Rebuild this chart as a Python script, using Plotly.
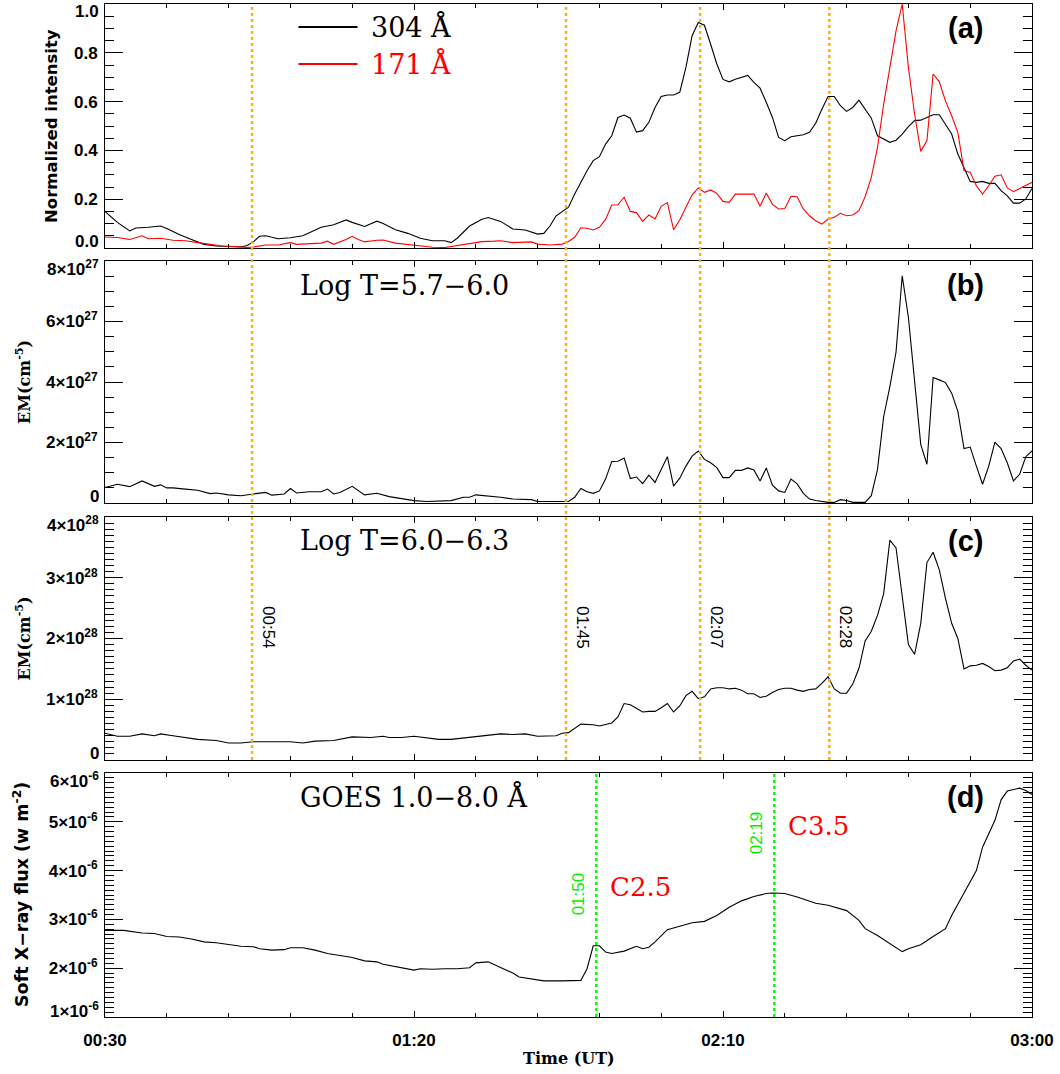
import plotly.graph_objects as go
from plotly.subplots import make_subplots

# ---------------- data (time = minutes after 00:30 UT) ----------------
t_304 = [0, 2, 4, 5, 7, 9, 10, 12, 14, 16, 18, 20, 22, 23, 24, 25, 26, 28, 30, 32, 33, 35, 37, 39, 40,
         42, 44, 45, 47, 49, 51, 53, 55, 56, 57, 59, 61, 62, 63, 64, 66, 68, 70, 71, 72, 73, 75, 76,
         78, 79, 80, 81, 82, 83, 84, 85, 86, 87, 88, 89, 90, 91, 92, 93, 94, 95, 96, 97, 98, 99, 100,
         101, 102, 103, 104, 105, 106, 107, 108, 109, 110, 111, 113, 114, 115, 116, 117, 118, 119, 120,
         121, 122, 123, 124, 125, 127, 128, 129, 130, 131, 132, 133, 134, 135, 136, 137, 138, 139, 140,
         141, 142, 143, 144, 145, 146, 147, 148, 149, 150]
i_304 = [0.15, 0.105, 0.07, 0.082, 0.085, 0.09, 0.08, 0.055, 0.035, 0.015, 0.008, 0.006, 0.004, 0.01,
         0.025, 0.048, 0.05, 0.038, 0.042, 0.05, 0.062, 0.085, 0.095, 0.115, 0.105, 0.088, 0.11, 0.1,
         0.075, 0.06, 0.04, 0.03, 0.03, 0.022, 0.04, 0.09, 0.118, 0.125, 0.117, 0.109, 0.078, 0.074,
         0.057, 0.06, 0.09, 0.132, 0.167, 0.221, 0.317, 0.358, 0.374, 0.426, 0.46, 0.535, 0.545, 0.532,
         0.475, 0.481, 0.515, 0.576, 0.621, 0.627, 0.627, 0.638, 0.74, 0.87, 0.924, 0.913, 0.835, 0.754,
         0.691, 0.681, 0.692, 0.699, 0.707, 0.679, 0.655, 0.597, 0.535, 0.453, 0.44, 0.456, 0.464, 0.474,
         0.511, 0.569, 0.621, 0.621, 0.583, 0.56, 0.576, 0.606, 0.569, 0.532, 0.46, 0.433, 0.442, 0.467,
         0.497, 0.522, 0.524, 0.535, 0.546, 0.546, 0.508, 0.467, 0.385, 0.33, 0.273, 0.269, 0.273, 0.265,
         0.265, 0.235, 0.214, 0.184, 0.184, 0.201, 0.244]

t_171 = [0, 2, 4, 6, 7, 9, 11, 13, 15, 17, 19, 21, 23, 24, 26, 28, 30, 31, 33, 35, 36, 37, 39, 40, 41,
         42, 44, 45, 47, 49, 51, 53, 55, 57, 59, 61, 63, 64, 66, 69, 70, 72, 74, 75, 76, 77, 78, 79, 80,
         81, 82, 83, 84, 85, 86, 87, 88, 89, 90, 91, 92, 93, 94, 95, 96, 97, 98, 99, 100, 101, 102, 103,
         105, 106, 107, 108, 109, 110, 111, 112, 113, 114, 115, 116, 117, 118, 119, 120, 121, 122, 123,
         124, 125, 126, 127, 128, 129, 130, 131, 132, 133, 134, 135, 136, 137, 138, 139, 140, 141, 142,
         143, 144, 145, 146, 147, 148, 149, 150]
i_171 = [0.045, 0.043, 0.035, 0.05, 0.038, 0.04, 0.032, 0.03, 0.022, 0.015, 0.008, 0.006, 0.002, 0.004,
         0.012, 0.012, 0.022, 0.015, 0.017, 0.02, 0.028, 0.015, 0.035, 0.048, 0.035, 0.025, 0.032, 0.033,
         0.02, 0.015, 0.01, 0.003, 0.002, 0.01, 0.02, 0.026, 0.028, 0.03, 0.022, 0.025, 0.016, 0.012,
         0.016, 0.027, 0.044, 0.083, 0.081, 0.074, 0.085, 0.117, 0.176, 0.177, 0.208, 0.15, 0.145, 0.109,
         0.135, 0.119, 0.171, 0.186, 0.075, 0.115, 0.167, 0.218, 0.246, 0.228, 0.238, 0.224, 0.191, 0.187,
         0.221, 0.221, 0.221, 0.171, 0.225, 0.179, 0.16, 0.162, 0.212, 0.21, 0.16, 0.132, 0.112, 0.098,
         0.119, 0.126, 0.142, 0.132, 0.135, 0.153, 0.21, 0.289, 0.412, 0.59, 0.74, 0.89, 1.0, 0.74, 0.549,
         0.396, 0.44, 0.713, 0.681, 0.603, 0.542, 0.474, 0.317, 0.31, 0.255, 0.221, 0.255, 0.294, 0.3,
         0.246, 0.231, 0.244, 0.259, 0.269]

# EM, log T = 5.7-6.0, in units of 1e27 cm^-5
t_em_low = [0, 2, 4, 6, 8, 9, 10, 11, 13, 15, 17, 18, 20, 22, 24, 26, 27, 29, 30, 31, 33, 35, 36, 37, 38,
            40, 42, 44, 46, 48, 50, 52, 54, 56, 58, 59, 60, 62, 64, 66, 69, 70, 74, 75, 76, 77, 78, 79,
            80, 81, 82, 83, 84, 85, 86, 87, 88, 89, 90, 91, 92, 93, 94, 95, 96, 97, 98, 99, 100, 101, 102,
            103, 104, 105, 106, 107, 108, 109, 110, 111, 112, 113, 114, 115, 117, 118, 119, 120, 121, 123,
            124, 125, 126, 127, 128, 129, 130, 131, 132, 133, 134, 135, 136, 137, 138, 139, 140, 141, 142,
            143, 144, 145, 146, 147, 148, 149, 150]
em_low = [0.51, 0.62, 0.54, 0.73, 0.55, 0.6, 0.5, 0.5, 0.46, 0.42, 0.31, 0.33, 0.27, 0.24, 0.3, 0.35,
          0.26, 0.3, 0.48, 0.33, 0.37, 0.37, 0.46, 0.3, 0.35, 0.55, 0.27, 0.32, 0.21, 0.15, 0.08, 0.05,
          0.07, 0.08, 0.19, 0.19, 0.27, 0.24, 0.19, 0.13, 0.11, 0.05, 0.03, 0.05, 0.19, 0.48, 0.37, 0.32,
          0.4, 0.79, 1.37, 1.38, 1.49, 0.81, 0.86, 0.64, 0.92, 0.68, 1.11, 1.53, 0.56, 0.82, 1.22, 1.55,
          1.72, 1.44, 1.33, 1.17, 0.84, 0.84, 1.08, 1.08, 1.16, 1.09, 0.73, 1.16, 0.59, 0.4, 0.35, 0.79,
          0.63, 0.32, 0.13, 0.08, 0.02, 0.02, 0.11, 0.08, 0.02, 0.02, 0.24, 1.11, 2.86, 3.85, 4.99, 7.51,
          6.14, 3.96, 1.93, 1.28, 4.15, 4.07, 3.98, 3.63, 3.03, 1.8, 1.85, 1.22, 0.62, 1.22, 2.01, 1.8,
          1.33, 0.73, 0.95, 1.53, 1.72]

# EM, log T = 6.0-6.3, in units of 1e28 cm^-5
t_em_high = [0, 2, 4, 6, 8, 9, 11, 13, 15, 18, 20, 22, 24, 26, 28, 30, 32, 34, 37, 38, 39, 40, 43, 45,
             46, 48, 50, 52, 54, 56, 58, 61, 64, 66, 68, 70, 73, 74, 75, 77, 79, 80, 82, 83, 84, 85, 86,
             87, 88, 89, 90, 91, 92, 93, 94, 95, 96, 97, 98, 99, 100, 101, 102, 103, 104, 105, 106, 107,
             108, 109, 110, 111, 112, 113, 114, 115, 116, 117, 118, 119, 120, 121, 122, 123, 124, 125,
             126, 127, 128, 129, 130, 131, 132, 133, 134, 135, 136, 137, 138, 139, 140, 141, 142, 143,
             144, 145, 146, 147, 148, 149, 150]
em_high = [0.44, 0.39, 0.39, 0.43, 0.4, 0.43, 0.40, 0.37, 0.34, 0.32, 0.28, 0.28, 0.30, 0.30, 0.30,
           0.30, 0.28, 0.31, 0.32, 0.34, 0.36, 0.38, 0.37, 0.39, 0.37, 0.37, 0.39, 0.36, 0.34, 0.34, 0.36,
           0.40, 0.43, 0.42, 0.43, 0.39, 0.40, 0.44, 0.45, 0.59, 0.58, 0.56, 0.61, 0.71, 0.93, 0.91, 0.85,
           0.79, 0.80, 0.80, 0.86, 0.93, 0.79, 0.89, 1.06, 1.13, 1.01, 1.04, 1.17, 1.19, 1.19, 1.17, 1.18,
           1.15, 1.09, 1.09, 1.03, 1.05, 1.11, 1.16, 1.18, 1.18, 1.15, 1.13, 1.16, 1.17, 1.26, 1.37, 1.17,
           1.10, 1.10, 1.25, 1.51, 1.96, 2.12, 2.38, 2.74, 3.62, 3.49, 2.74, 1.90, 1.74, 2.25, 3.25, 3.42,
           3.13, 2.66, 2.25, 2.0, 1.50, 1.55, 1.56, 1.59, 1.54, 1.47, 1.48, 1.52, 1.63, 1.66, 1.56, 1.48]

# GOES 1-8 A flux, in units of 1e-6 W m^-2
t_goes = [0, 3, 6, 8, 10, 12, 14, 16, 18, 20, 22, 24, 25, 27, 29, 30, 32, 34, 36, 38, 40, 42, 44, 45,
          48, 50, 51, 53, 55, 57, 59, 60, 62, 64, 66, 67, 70, 71, 74, 76, 77, 78, 79, 80, 81, 82, 84, 86,
          87, 88, 89, 91, 93, 95, 97, 99, 101, 103, 105, 107, 108, 110, 112, 115, 117, 120, 122, 123,
          125, 127, 129, 130, 132, 134, 136, 137, 139, 141, 142, 144, 145, 146, 148, 149, 150]
goes = [2.775, 2.775, 2.72, 2.71, 2.65, 2.64, 2.60, 2.54, 2.52, 2.49, 2.45, 2.44, 2.40, 2.37, 2.38,
        2.42, 2.42, 2.37, 2.30, 2.26, 2.22, 2.15, 2.13, 2.08, 2.01, 1.96, 1.99, 1.98, 1.99, 1.99, 2.01,
        2.11, 2.13, 2.02, 1.90, 1.82, 1.76, 1.74, 1.74, 1.75, 1.75, 1.99, 2.46, 2.46, 2.33, 2.30, 2.35,
        2.45, 2.40, 2.43, 2.54, 2.79, 2.86, 2.93, 2.96, 3.08, 3.25, 3.38, 3.47, 3.53, 3.54, 3.53, 3.46,
        3.33, 3.29, 3.18, 2.98, 2.81, 2.67, 2.50, 2.34, 2.40, 2.48, 2.65, 2.81, 3.08, 3.53, 4.00, 4.48,
        5.03, 5.45, 5.63, 5.69, 5.64, 5.56]

EM_LOW_UNIT = 1e27
EM_HIGH_UNIT = 1e28
GOES_UNIT = 1e-6

aia_times = [23.8, 74.6, 96.3, 117.2]
aia_labels = ["00:54", "01:45", "02:07", "02:28"]
flare_times = [79.5, 108.3]
flare_time_labels = ["01:50", "02:19"]
flare_classes = ["C2.5", "C3.5"]

x_tickvals = [0, 50, 100, 150]
x_ticktext = ["00:30", "01:20", "02:10", "03:00"]

ya_vals = [0, 0.2, 0.4, 0.6, 0.8, 1.0]
ya_text = ["0.0", "0.2", "0.4", "0.6", "0.8", "1.0"]
yb_vals = [0, 2e27, 4e27, 6e27, 8e27]
yb_text = ["0", "2×10<sup>27</sup>", "4×10<sup>27</sup>", "6×10<sup>27</sup>", "8×10<sup>27</sup>"]
yc_vals = [0, 1e28, 2e28, 3e28, 4e28]
yc_text = ["0", "1×10<sup>28</sup>", "2×10<sup>28</sup>", "3×10<sup>28</sup>", "4×10<sup>28</sup>"]
yd_vals = [1e-6, 2e-6, 3e-6, 4e-6, 5e-6, 6e-6]
yd_text = ["1×10<sup>-6</sup>", "2×10<sup>-6</sup>", "3×10<sup>-6</sup>", "4×10<sup>-6</sup>",
           "5×10<sup>-6</sup>", "6×10<sup>-6</sup>"]

# ---------------- figure ----------------
W, H = 1060, 1074
ML, MR, MT, MB = 105, 28, 4, 57
PH = H - MT - MB
def dom(top_px, bot_px):
    return [(H - MB - bot_px) / PH, (H - MB - top_px) / PH]

fig = make_subplots(rows=4, cols=1)
doms = [dom(4, 248), dom(261, 503), dom(517, 760), dom(773, 1017)]

TICKFONT = dict(family="Liberation Sans", size=17, color="black", weight="bold")
SERIF = "DejaVu Serif"

fig.add_trace(go.Scatter(x=t_304, y=i_304, mode="lines", line=dict(color="black", width=1.1)), row=1, col=1)
fig.add_trace(go.Scatter(x=t_171, y=i_171, mode="lines", line=dict(color="#FF0000", width=1.1)), row=1, col=1)
fig.add_trace(go.Scatter(x=t_em_low, y=[v * EM_LOW_UNIT for v in em_low], mode="lines",
                         line=dict(color="black", width=1.1)), row=2, col=1)
fig.add_trace(go.Scatter(x=t_em_high, y=[v * EM_HIGH_UNIT for v in em_high], mode="lines",
                         line=dict(color="black", width=1.1)), row=3, col=1)
fig.add_trace(go.Scatter(x=t_goes, y=[v * GOES_UNIT for v in goes], mode="lines",
                         line=dict(color="black", width=1.1)), row=4, col=1)

yspecs = [
    (ya_vals, ya_text, [0, 1.0], 0.05),
    (yb_vals, yb_text, [0, 8e27], 0.5e27),
    (yc_vals, yc_text, [0, 4e28], 0.1e28),
    (yd_vals, yd_text, [1e-6, 6e-6], 0.1e-6),
]
for i in range(4):
    vals, text, rng, mdt = yspecs[i]
    shown = ["" if (k == 0 or k == len(text) - 1) else s for k, s in enumerate(text)]
    fig.update_yaxes(row=i + 1, col=1, domain=doms[i], range=rng, tickmode="array", tickvals=vals,
                     ticktext=shown, ticks="inside", ticklen=18, tickwidth=1, tickcolor="black",
                     showline=True, linecolor="black", linewidth=1, mirror="allticks",
                     showgrid=False, zeroline=False, tickfont=TICKFONT, ticklabelstandoff=3,
                     automargin=False,
                     minor=dict(tickmode="linear", tick0=rng[0], dtick=mdt, ticks="inside",
                                ticklen=9, tickwidth=1, tickcolor="black", showgrid=False))
    fig.update_xaxes(row=i + 1, col=1, domain=[0, 1], range=[0, 150], tickmode="array",
                     tickvals=x_tickvals, ticktext=x_ticktext, showticklabels=(i == 3),
                     ticks="inside", ticklen=6, tickwidth=1, tickcolor="black", showline=True,
                     linecolor="black", linewidth=1, mirror="allticks", showgrid=False,
                     zeroline=False, tickfont=TICKFONT, ticklabelstandoff=8, automargin=False,
                     minor=dict(tickmode="linear", tick0=0, dtick=10, ticks="inside", ticklen=4,
                                tickwidth=1, tickcolor="black", showgrid=False))

ann = []
yrefs = ["y", "y2", "y3", "y4"]
xdoms = ["x domain", "x2 domain", "x3 domain", "x4 domain"]
ydoms = ["y domain", "y2 domain", "y3 domain", "y4 domain"]

# end tick labels, nudged inward like the original
for i in range(4):
    vals, text, rng, mdt = yspecs[i]
    for k, shift in ((0, 7), (len(vals) - 1, -7)):
        ann.append(dict(xref=xdoms[i], yref=yrefs[i], x=0, y=vals[k], xanchor="right", yanchor="middle",
                        xshift=-4, yshift=shift, text=text[k], showarrow=False, font=TICKFONT))

# axis titles
AXT = dict(family="DejaVu Sans", size=16.5, color="black", weight="bold")
AXS = dict(family=SERIF, size=16, color="black", weight="bold")
ann.append(dict(xref="paper", yref=ydoms[0], x=0, y=0.5, xshift=-53, textangle=-90, xanchor="center",
                yanchor="middle", text="Normalized intensity", showarrow=False, font=AXT))
ann.append(dict(xref="paper", yref=ydoms[1], x=0, y=0.5, xshift=-82, textangle=-90, xanchor="center",
                yanchor="middle", text="EM(cm<sup>-5</sup>)", showarrow=False, font=AXS))
ann.append(dict(xref="paper", yref=ydoms[2], x=0, y=0.5, xshift=-82, textangle=-90, xanchor="center",
                yanchor="middle", text="EM(cm<sup>-5</sup>)", showarrow=False, font=AXS))
ann.append(dict(xref="paper", yref=ydoms[3], x=0, y=0.5, xshift=-84, textangle=-90, xanchor="center",
                yanchor="middle", text="Soft X−ray flux (w m<sup>-2</sup>)", showarrow=False,
                font=dict(family="DejaVu Sans", size=17.5, color="black", weight="bold")))
ann.append(dict(xref="paper", yref="paper", x=0.5, y=0, yshift=-41, xanchor="center", yanchor="middle",
                text="Time (UT)", showarrow=False, font=AXS))

# panel letters
for i, lab in enumerate(["(a)", "(b)", "(c)", "(d)"]):
    ann.append(dict(xref=xdoms[i], yref=ydoms[i], x=0.928, y=0.9, xanchor="center", yanchor="middle",
                    text=lab, showarrow=False,
                    font=dict(family="Liberation Sans", size=29, color="black", weight="bold")))

BIG = dict(family=SERIF, size=27, color="black")
ann.append(dict(xref=xdoms[1], yref=ydoms[1], x=0.2087, y=0.9, xanchor="left", yanchor="middle",
                text="Log T=5.7−6.0", showarrow=False, font=BIG))
ann.append(dict(xref=xdoms[2], yref=ydoms[2], x=0.2087, y=0.905, xanchor="left", yanchor="middle",
                text="Log T=6.0−6.3", showarrow=False, font=BIG))
ann.append(dict(xref=xdoms[3], yref=ydoms[3], x=0.2087, y=0.9, xanchor="left", yanchor="middle",
                text="GOES 1.0−8.0 Å", showarrow=False, font=BIG))

# legend (panel a)
shapes = []
for col, yy, lab in (("black", 0.906, "304 Å"), ("#FF0000", 0.754, "171 Å")):
    shapes.append(dict(type="line", xref=xdoms[0], yref=ydoms[0], x0=0.2087, x1=0.2724, y0=yy, y1=yy,
                       line=dict(color=col, width=2)))
    ann.append(dict(xref=xdoms[0], yref=ydoms[0], x=0.2843, y=yy, xanchor="left", yanchor="middle",
                    text=lab, showarrow=False, font=dict(family=SERIF, size=27, color=col)))

# orange dotted lines through panels a-c with time labels in panel c
for tt, lab in zip(aia_times, aia_labels):
    shapes.append(dict(type="line", xref="x", yref="paper", x0=tt, x1=tt, y0=doms[2][0], y1=1,
                       line=dict(color="#FFB000", width=2.5, dash="dot")))
    ann.append(dict(xref="x3", yref=ydoms[2], x=tt, y=0.547, xshift=17, textangle=90, text=lab,
                    xanchor="center", yanchor="middle", showarrow=False,
                    font=dict(family="Liberation Sans", size=17, color="black")))

# green dotted lines in panel d with flare labels
for tt, lab, cls, yl, yc in zip(flare_times, flare_time_labels, flare_classes, [0.504, 0.754], [0.533, 0.783]):
    shapes.append(dict(type="line", xref="x4", yref=ydoms[3], x0=tt, x1=tt, y0=0, y1=1,
                       line=dict(color="#00FF00", width=2.5, dash="dot")))
    ann.append(dict(xref="x4", yref=ydoms[3], x=tt, y=yl, xshift=-18, textangle=-90, text=lab,
                    xanchor="center", yanchor="middle", showarrow=False,
                    font=dict(family="Liberation Sans", size=17, color="#00EE00")))
    ann.append(dict(xref="x4", yref=ydoms[3], x=tt, y=yc, xshift=12, xanchor="left", yanchor="middle",
                    text=cls, showarrow=False, font=dict(family=SERIF, size=26, color="#FF0000")))

fig.update_layout(template="none", width=W, height=H, autosize=False,
                  margin=dict(l=ML, r=MR, t=MT, b=MB, autoexpand=False),
                  paper_bgcolor="white", plot_bgcolor="white", showlegend=False,
                  annotations=ann, shapes=shapes)
fig.write_html("out.html", config={"displayModeBar": False},
               post_script="document.body.style.margin='0px';")
